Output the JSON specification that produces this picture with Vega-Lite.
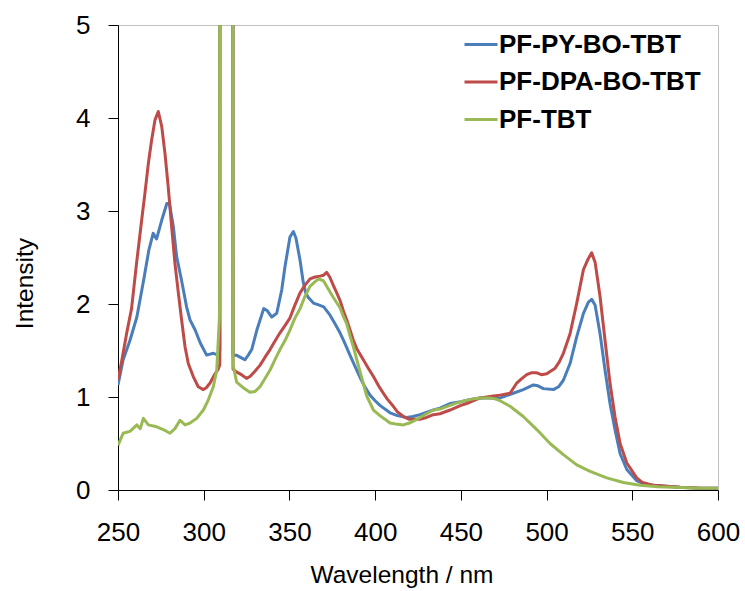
{
  "$schema": "https://vega.github.io/schema/vega-lite/v6.json",
  "width": 600,
  "height": 465,
  "autosize": "none",
  "padding": {"left": 118, "top": 25, "right": 27, "bottom": 101},
  "background": "white",
  "config": {
    "font": "Liberation Sans",
    "view": {"stroke": "#c0c0c0", "strokeWidth": 1},
    "axis": {"grid": false, "domainColor": "black", "tickColor": "black", "labelColor": "black", "titleColor": "black", "labelFont": "Liberation Sans", "titleFont": "Liberation Sans", "titleFontWeight": "normal", "labelFontSize": 26, "titleFontSize": 24.5, "tickSize": 10, "labelFlush": false, "labelOverlap": false}
  },
  "data": {"values": [
    {"wl":250,"v":1.13,"s":"PF-PY-BO-TBT"},{"wl":253,"v":1.40,"s":"PF-PY-BO-TBT"},{"wl":257,"v":1.61,"s":"PF-PY-BO-TBT"},{"wl":261,"v":1.86,"s":"PF-PY-BO-TBT"},{"wl":265,"v":2.26,"s":"PF-PY-BO-TBT"},{"wl":268,"v":2.58,"s":"PF-PY-BO-TBT"},{"wl":270.5,"v":2.76,"s":"PF-PY-BO-TBT"},{"wl":272.5,"v":2.70,"s":"PF-PY-BO-TBT"},{"wl":275.5,"v":2.90,"s":"PF-PY-BO-TBT"},{"wl":278.5,"v":3.08,"s":"PF-PY-BO-TBT"},{"wl":280,"v":3.08,"s":"PF-PY-BO-TBT"},{"wl":282.3,"v":2.83,"s":"PF-PY-BO-TBT"},{"wl":284.2,"v":2.51,"s":"PF-PY-BO-TBT"},{"wl":287,"v":2.26,"s":"PF-PY-BO-TBT"},{"wl":290,"v":1.97,"s":"PF-PY-BO-TBT"},{"wl":292,"v":1.83,"s":"PF-PY-BO-TBT"},{"wl":295,"v":1.72,"s":"PF-PY-BO-TBT"},{"wl":298,"v":1.58,"s":"PF-PY-BO-TBT"},{"wl":301.7,"v":1.45,"s":"PF-PY-BO-TBT"},{"wl":305.6,"v":1.47,"s":"PF-PY-BO-TBT"},{"wl":308.5,"v":1.45,"s":"PF-PY-BO-TBT"},{"wl":309.4,"v":1.5,"s":"PF-PY-BO-TBT"},{"wl":309.8,"v":60,"s":"PF-PY-BO-TBT"},{"wl":316.6,"v":60,"s":"PF-PY-BO-TBT"},{"wl":317.1,"v":1.45,"s":"PF-PY-BO-TBT"},{"wl":319,"v":1.45,"s":"PF-PY-BO-TBT"},{"wl":322,"v":1.42,"s":"PF-PY-BO-TBT"},{"wl":324,"v":1.40,"s":"PF-PY-BO-TBT"},{"wl":326,"v":1.45,"s":"PF-PY-BO-TBT"},{"wl":328,"v":1.51,"s":"PF-PY-BO-TBT"},{"wl":331,"v":1.72,"s":"PF-PY-BO-TBT"},{"wl":335,"v":1.95,"s":"PF-PY-BO-TBT"},{"wl":337,"v":1.93,"s":"PF-PY-BO-TBT"},{"wl":339.7,"v":1.86,"s":"PF-PY-BO-TBT"},{"wl":342.6,"v":1.90,"s":"PF-PY-BO-TBT"},{"wl":345.5,"v":2.15,"s":"PF-PY-BO-TBT"},{"wl":347.4,"v":2.40,"s":"PF-PY-BO-TBT"},{"wl":350.3,"v":2.72,"s":"PF-PY-BO-TBT"},{"wl":352.3,"v":2.78,"s":"PF-PY-BO-TBT"},{"wl":353.8,"v":2.71,"s":"PF-PY-BO-TBT"},{"wl":356.2,"v":2.47,"s":"PF-PY-BO-TBT"},{"wl":358,"v":2.24,"s":"PF-PY-BO-TBT"},{"wl":359.5,"v":2.12,"s":"PF-PY-BO-TBT"},{"wl":361,"v":2.07,"s":"PF-PY-BO-TBT"},{"wl":364,"v":2.01,"s":"PF-PY-BO-TBT"},{"wl":367,"v":1.99,"s":"PF-PY-BO-TBT"},{"wl":370,"v":1.97,"s":"PF-PY-BO-TBT"},{"wl":373.7,"v":1.88,"s":"PF-PY-BO-TBT"},{"wl":376.5,"v":1.79,"s":"PF-PY-BO-TBT"},{"wl":379.5,"v":1.69,"s":"PF-PY-BO-TBT"},{"wl":382.5,"v":1.57,"s":"PF-PY-BO-TBT"},{"wl":385.3,"v":1.45,"s":"PF-PY-BO-TBT"},{"wl":388,"v":1.34,"s":"PF-PY-BO-TBT"},{"wl":391.2,"v":1.21,"s":"PF-PY-BO-TBT"},{"wl":394,"v":1.11,"s":"PF-PY-BO-TBT"},{"wl":397,"v":1.02,"s":"PF-PY-BO-TBT"},{"wl":400,"v":0.96,"s":"PF-PY-BO-TBT"},{"wl":402.8,"v":0.91,"s":"PF-PY-BO-TBT"},{"wl":408.7,"v":0.83,"s":"PF-PY-BO-TBT"},{"wl":413,"v":0.80,"s":"PF-PY-BO-TBT"},{"wl":418.4,"v":0.78,"s":"PF-PY-BO-TBT"},{"wl":422,"v":0.79,"s":"PF-PY-BO-TBT"},{"wl":426.2,"v":0.81,"s":"PF-PY-BO-TBT"},{"wl":434,"v":0.86,"s":"PF-PY-BO-TBT"},{"wl":437.8,"v":0.88,"s":"PF-PY-BO-TBT"},{"wl":443.7,"v":0.93,"s":"PF-PY-BO-TBT"},{"wl":450,"v":0.95,"s":"PF-PY-BO-TBT"},{"wl":455,"v":0.97,"s":"PF-PY-BO-TBT"},{"wl":461,"v":0.99,"s":"PF-PY-BO-TBT"},{"wl":467,"v":0.99,"s":"PF-PY-BO-TBT"},{"wl":473,"v":0.99,"s":"PF-PY-BO-TBT"},{"wl":480.6,"v":1.04,"s":"PF-PY-BO-TBT"},{"wl":486.4,"v":1.08,"s":"PF-PY-BO-TBT"},{"wl":492.3,"v":1.13,"s":"PF-PY-BO-TBT"},{"wl":495,"v":1.12,"s":"PF-PY-BO-TBT"},{"wl":498.1,"v":1.09,"s":"PF-PY-BO-TBT"},{"wl":504,"v":1.08,"s":"PF-PY-BO-TBT"},{"wl":507,"v":1.11,"s":"PF-PY-BO-TBT"},{"wl":509.8,"v":1.18,"s":"PF-PY-BO-TBT"},{"wl":513.7,"v":1.36,"s":"PF-PY-BO-TBT"},{"wl":517.6,"v":1.65,"s":"PF-PY-BO-TBT"},{"wl":521.5,"v":1.90,"s":"PF-PY-BO-TBT"},{"wl":524.4,"v":2.02,"s":"PF-PY-BO-TBT"},{"wl":526.3,"v":2.05,"s":"PF-PY-BO-TBT"},{"wl":528.3,"v":1.99,"s":"PF-PY-BO-TBT"},{"wl":531.2,"v":1.68,"s":"PF-PY-BO-TBT"},{"wl":534.1,"v":1.29,"s":"PF-PY-BO-TBT"},{"wl":537,"v":0.93,"s":"PF-PY-BO-TBT"},{"wl":539.9,"v":0.65,"s":"PF-PY-BO-TBT"},{"wl":542.9,"v":0.39,"s":"PF-PY-BO-TBT"},{"wl":546.8,"v":0.22,"s":"PF-PY-BO-TBT"},{"wl":552.6,"v":0.10,"s":"PF-PY-BO-TBT"},{"wl":556,"v":0.07,"s":"PF-PY-BO-TBT"},{"wl":562.3,"v":0.05,"s":"PF-PY-BO-TBT"},{"wl":570,"v":0.04,"s":"PF-PY-BO-TBT"},{"wl":578,"v":0.03,"s":"PF-PY-BO-TBT"},{"wl":590,"v":0.02,"s":"PF-PY-BO-TBT"},{"wl":600,"v":0.02,"s":"PF-PY-BO-TBT"},

    {"wl":250,"v":1.18,"s":"PF-DPA-BO-TBT"},{"wl":252.1,"v":1.38,"s":"PF-DPA-BO-TBT"},{"wl":255,"v":1.68,"s":"PF-DPA-BO-TBT"},{"wl":257.9,"v":1.95,"s":"PF-DPA-BO-TBT"},{"wl":260.9,"v":2.45,"s":"PF-DPA-BO-TBT"},{"wl":263.8,"v":2.90,"s":"PF-DPA-BO-TBT"},{"wl":265.7,"v":3.19,"s":"PF-DPA-BO-TBT"},{"wl":267.7,"v":3.51,"s":"PF-DPA-BO-TBT"},{"wl":269.6,"v":3.76,"s":"PF-DPA-BO-TBT"},{"wl":271.6,"v":3.98,"s":"PF-DPA-BO-TBT"},{"wl":273.5,"v":4.07,"s":"PF-DPA-BO-TBT"},{"wl":275.5,"v":3.91,"s":"PF-DPA-BO-TBT"},{"wl":277.4,"v":3.62,"s":"PF-DPA-BO-TBT"},{"wl":279.3,"v":3.26,"s":"PF-DPA-BO-TBT"},{"wl":281.3,"v":2.83,"s":"PF-DPA-BO-TBT"},{"wl":283.2,"v":2.44,"s":"PF-DPA-BO-TBT"},{"wl":285.2,"v":2.12,"s":"PF-DPA-BO-TBT"},{"wl":287.1,"v":1.83,"s":"PF-DPA-BO-TBT"},{"wl":289.1,"v":1.54,"s":"PF-DPA-BO-TBT"},{"wl":291,"v":1.36,"s":"PF-DPA-BO-TBT"},{"wl":293.9,"v":1.22,"s":"PF-DPA-BO-TBT"},{"wl":296.8,"v":1.11,"s":"PF-DPA-BO-TBT"},{"wl":299.8,"v":1.08,"s":"PF-DPA-BO-TBT"},{"wl":301.5,"v":1.10,"s":"PF-DPA-BO-TBT"},{"wl":303.7,"v":1.15,"s":"PF-DPA-BO-TBT"},{"wl":306.6,"v":1.25,"s":"PF-DPA-BO-TBT"},{"wl":308.5,"v":1.30,"s":"PF-DPA-BO-TBT"},{"wl":309.4,"v":1.35,"s":"PF-DPA-BO-TBT"},{"wl":309.8,"v":60,"s":"PF-DPA-BO-TBT"},{"wl":316.6,"v":60,"s":"PF-DPA-BO-TBT"},{"wl":317.1,"v":1.30,"s":"PF-DPA-BO-TBT"},{"wl":319,"v":1.27,"s":"PF-DPA-BO-TBT"},{"wl":322,"v":1.24,"s":"PF-DPA-BO-TBT"},{"wl":325,"v":1.20,"s":"PF-DPA-BO-TBT"},{"wl":327,"v":1.22,"s":"PF-DPA-BO-TBT"},{"wl":330,"v":1.28,"s":"PF-DPA-BO-TBT"},{"wl":332.8,"v":1.34,"s":"PF-DPA-BO-TBT"},{"wl":335.5,"v":1.42,"s":"PF-DPA-BO-TBT"},{"wl":338.7,"v":1.51,"s":"PF-DPA-BO-TBT"},{"wl":341.5,"v":1.60,"s":"PF-DPA-BO-TBT"},{"wl":344.5,"v":1.69,"s":"PF-DPA-BO-TBT"},{"wl":347.5,"v":1.77,"s":"PF-DPA-BO-TBT"},{"wl":350.3,"v":1.85,"s":"PF-DPA-BO-TBT"},{"wl":353,"v":1.98,"s":"PF-DPA-BO-TBT"},{"wl":356.2,"v":2.12,"s":"PF-DPA-BO-TBT"},{"wl":359,"v":2.20,"s":"PF-DPA-BO-TBT"},{"wl":362,"v":2.27,"s":"PF-DPA-BO-TBT"},{"wl":365,"v":2.29,"s":"PF-DPA-BO-TBT"},{"wl":367.8,"v":2.30,"s":"PF-DPA-BO-TBT"},{"wl":370,"v":2.31,"s":"PF-DPA-BO-TBT"},{"wl":371.7,"v":2.34,"s":"PF-DPA-BO-TBT"},{"wl":373.5,"v":2.29,"s":"PF-DPA-BO-TBT"},{"wl":375.6,"v":2.20,"s":"PF-DPA-BO-TBT"},{"wl":377.6,"v":2.12,"s":"PF-DPA-BO-TBT"},{"wl":379.5,"v":2.04,"s":"PF-DPA-BO-TBT"},{"wl":381.4,"v":1.93,"s":"PF-DPA-BO-TBT"},{"wl":383.4,"v":1.83,"s":"PF-DPA-BO-TBT"},{"wl":387.3,"v":1.61,"s":"PF-DPA-BO-TBT"},{"wl":389.3,"v":1.52,"s":"PF-DPA-BO-TBT"},{"wl":393.1,"v":1.40,"s":"PF-DPA-BO-TBT"},{"wl":396,"v":1.31,"s":"PF-DPA-BO-TBT"},{"wl":399,"v":1.22,"s":"PF-DPA-BO-TBT"},{"wl":402,"v":1.12,"s":"PF-DPA-BO-TBT"},{"wl":404.8,"v":1.04,"s":"PF-DPA-BO-TBT"},{"wl":407,"v":0.98,"s":"PF-DPA-BO-TBT"},{"wl":410.6,"v":0.90,"s":"PF-DPA-BO-TBT"},{"wl":413,"v":0.84,"s":"PF-DPA-BO-TBT"},{"wl":416.5,"v":0.79,"s":"PF-DPA-BO-TBT"},{"wl":420,"v":0.76,"s":"PF-DPA-BO-TBT"},{"wl":426,"v":0.76,"s":"PF-DPA-BO-TBT"},{"wl":430,"v":0.78,"s":"PF-DPA-BO-TBT"},{"wl":434,"v":0.81,"s":"PF-DPA-BO-TBT"},{"wl":437.8,"v":0.82,"s":"PF-DPA-BO-TBT"},{"wl":443.7,"v":0.86,"s":"PF-DPA-BO-TBT"},{"wl":450,"v":0.91,"s":"PF-DPA-BO-TBT"},{"wl":453.4,"v":0.93,"s":"PF-DPA-BO-TBT"},{"wl":461.2,"v":0.99,"s":"PF-DPA-BO-TBT"},{"wl":469,"v":1.01,"s":"PF-DPA-BO-TBT"},{"wl":472.8,"v":1.02,"s":"PF-DPA-BO-TBT"},{"wl":478.7,"v":1.04,"s":"PF-DPA-BO-TBT"},{"wl":482.6,"v":1.15,"s":"PF-DPA-BO-TBT"},{"wl":485,"v":1.19,"s":"PF-DPA-BO-TBT"},{"wl":488.4,"v":1.24,"s":"PF-DPA-BO-TBT"},{"wl":491,"v":1.26,"s":"PF-DPA-BO-TBT"},{"wl":494.3,"v":1.26,"s":"PF-DPA-BO-TBT"},{"wl":497,"v":1.24,"s":"PF-DPA-BO-TBT"},{"wl":500.1,"v":1.25,"s":"PF-DPA-BO-TBT"},{"wl":505,"v":1.31,"s":"PF-DPA-BO-TBT"},{"wl":507.5,"v":1.38,"s":"PF-DPA-BO-TBT"},{"wl":509.8,"v":1.47,"s":"PF-DPA-BO-TBT"},{"wl":513.7,"v":1.68,"s":"PF-DPA-BO-TBT"},{"wl":517.6,"v":2.01,"s":"PF-DPA-BO-TBT"},{"wl":521.5,"v":2.37,"s":"PF-DPA-BO-TBT"},{"wl":524.4,"v":2.49,"s":"PF-DPA-BO-TBT"},{"wl":526.3,"v":2.55,"s":"PF-DPA-BO-TBT"},{"wl":528.3,"v":2.45,"s":"PF-DPA-BO-TBT"},{"wl":531.2,"v":2.08,"s":"PF-DPA-BO-TBT"},{"wl":534.1,"v":1.61,"s":"PF-DPA-BO-TBT"},{"wl":537,"v":1.15,"s":"PF-DPA-BO-TBT"},{"wl":539.9,"v":0.79,"s":"PF-DPA-BO-TBT"},{"wl":542.9,"v":0.50,"s":"PF-DPA-BO-TBT"},{"wl":546.8,"v":0.29,"s":"PF-DPA-BO-TBT"},{"wl":552.6,"v":0.13,"s":"PF-DPA-BO-TBT"},{"wl":556,"v":0.08,"s":"PF-DPA-BO-TBT"},{"wl":562.3,"v":0.05,"s":"PF-DPA-BO-TBT"},{"wl":570,"v":0.04,"s":"PF-DPA-BO-TBT"},{"wl":578,"v":0.03,"s":"PF-DPA-BO-TBT"},{"wl":590,"v":0.02,"s":"PF-DPA-BO-TBT"},{"wl":600,"v":0.02,"s":"PF-DPA-BO-TBT"},

    {"wl":250,"v":0.48,"s":"PF-TBT"},{"wl":253,"v":0.61,"s":"PF-TBT"},{"wl":257,"v":0.63,"s":"PF-TBT"},{"wl":261,"v":0.70,"s":"PF-TBT"},{"wl":263,"v":0.66,"s":"PF-TBT"},{"wl":264.8,"v":0.77,"s":"PF-TBT"},{"wl":267.7,"v":0.70,"s":"PF-TBT"},{"wl":272.6,"v":0.68,"s":"PF-TBT"},{"wl":276.4,"v":0.65,"s":"PF-TBT"},{"wl":280.3,"v":0.61,"s":"PF-TBT"},{"wl":283.2,"v":0.66,"s":"PF-TBT"},{"wl":286.2,"v":0.75,"s":"PF-TBT"},{"wl":289.1,"v":0.70,"s":"PF-TBT"},{"wl":292,"v":0.72,"s":"PF-TBT"},{"wl":295.9,"v":0.77,"s":"PF-TBT"},{"wl":299.8,"v":0.86,"s":"PF-TBT"},{"wl":302.7,"v":0.97,"s":"PF-TBT"},{"wl":305.6,"v":1.11,"s":"PF-TBT"},{"wl":307.6,"v":1.29,"s":"PF-TBT"},{"wl":309.1,"v":1.83,"s":"PF-TBT"},{"wl":309.3,"v":2.0,"s":"PF-TBT"},{"wl":309.8,"v":60,"s":"PF-TBT"},{"wl":316.6,"v":60,"s":"PF-TBT"},{"wl":317.1,"v":1.35,"s":"PF-TBT"},{"wl":319.2,"v":1.16,"s":"PF-TBT"},{"wl":323,"v":1.10,"s":"PF-TBT"},{"wl":327,"v":1.05,"s":"PF-TBT"},{"wl":330,"v":1.06,"s":"PF-TBT"},{"wl":332.8,"v":1.11,"s":"PF-TBT"},{"wl":335.5,"v":1.19,"s":"PF-TBT"},{"wl":338.7,"v":1.29,"s":"PF-TBT"},{"wl":341.5,"v":1.40,"s":"PF-TBT"},{"wl":344.5,"v":1.51,"s":"PF-TBT"},{"wl":347.5,"v":1.61,"s":"PF-TBT"},{"wl":350.3,"v":1.72,"s":"PF-TBT"},{"wl":353,"v":1.84,"s":"PF-TBT"},{"wl":356.2,"v":1.95,"s":"PF-TBT"},{"wl":359,"v":2.08,"s":"PF-TBT"},{"wl":362,"v":2.19,"s":"PF-TBT"},{"wl":365,"v":2.24,"s":"PF-TBT"},{"wl":367,"v":2.27,"s":"PF-TBT"},{"wl":369.8,"v":2.25,"s":"PF-TBT"},{"wl":373.7,"v":2.13,"s":"PF-TBT"},{"wl":375.6,"v":2.07,"s":"PF-TBT"},{"wl":379.5,"v":1.96,"s":"PF-TBT"},{"wl":381.4,"v":1.87,"s":"PF-TBT"},{"wl":383.4,"v":1.79,"s":"PF-TBT"},{"wl":385.3,"v":1.66,"s":"PF-TBT"},{"wl":387.3,"v":1.54,"s":"PF-TBT"},{"wl":391.2,"v":1.27,"s":"PF-TBT"},{"wl":395.1,"v":1.01,"s":"PF-TBT"},{"wl":399,"v":0.86,"s":"PF-TBT"},{"wl":402.8,"v":0.80,"s":"PF-TBT"},{"wl":408.7,"v":0.72,"s":"PF-TBT"},{"wl":412,"v":0.71,"s":"PF-TBT"},{"wl":416.5,"v":0.70,"s":"PF-TBT"},{"wl":420,"v":0.72,"s":"PF-TBT"},{"wl":424.3,"v":0.76,"s":"PF-TBT"},{"wl":430,"v":0.82,"s":"PF-TBT"},{"wl":434,"v":0.86,"s":"PF-TBT"},{"wl":437.8,"v":0.87,"s":"PF-TBT"},{"wl":443.7,"v":0.91,"s":"PF-TBT"},{"wl":450,"v":0.95,"s":"PF-TBT"},{"wl":457.3,"v":0.98,"s":"PF-TBT"},{"wl":462,"v":0.99,"s":"PF-TBT"},{"wl":467,"v":0.99,"s":"PF-TBT"},{"wl":470,"v":0.98,"s":"PF-TBT"},{"wl":472.8,"v":0.96,"s":"PF-TBT"},{"wl":478.7,"v":0.90,"s":"PF-TBT"},{"wl":486.4,"v":0.79,"s":"PF-TBT"},{"wl":494.3,"v":0.65,"s":"PF-TBT"},{"wl":502,"v":0.50,"s":"PF-TBT"},{"wl":509.8,"v":0.38,"s":"PF-TBT"},{"wl":517.6,"v":0.27,"s":"PF-TBT"},{"wl":525.4,"v":0.20,"s":"PF-TBT"},{"wl":535.1,"v":0.13,"s":"PF-TBT"},{"wl":544.8,"v":0.08,"s":"PF-TBT"},{"wl":554.5,"v":0.05,"s":"PF-TBT"},{"wl":565,"v":0.035,"s":"PF-TBT"},{"wl":574,"v":0.03,"s":"PF-TBT"},{"wl":590,"v":0.02,"s":"PF-TBT"},{"wl":600,"v":0.02,"s":"PF-TBT"}
  ]},
  "mark": {"type": "line", "clip": true, "strokeWidth": 3, "strokeJoin": "round", "strokeCap": "butt", "interpolate": "linear"},
  "encoding": {
    "x": {"field": "wl", "type": "quantitative", "scale": {"domain": [250, 600], "nice": false, "zero": false},
      "axis": {"values": [250, 300, 350, 400, 450, 500, 550, 600], "title": "Wavelength / nm", "labelPadding": 19, "titleBaseline": "alphabetic", "titleY": 92.7, "titleX": 283.5, "titleAlign": "center"}},
    "y": {"field": "v", "type": "quantitative", "scale": {"domain": [0, 5], "nice": false},
      "axis": {"values": [0, 1, 2, 3, 4, 5], "title": "Intensity", "labelPadding": 18, "titleBaseline": "alphabetic", "titleX": -86, "titleY": 258, "titleAngle": 270, "titleAlign": "center"}},
    "color": {"field": "s", "type": "nominal", "sort": ["PF-PY-BO-TBT", "PF-DPA-BO-TBT", "PF-TBT"],
      "scale": {"domain": ["PF-PY-BO-TBT", "PF-DPA-BO-TBT", "PF-TBT"], "range": ["#4a7ebb", "#be4b48", "#98b954"]},
      "legend": {"title": null, "orient": "none", "legendX": 345, "legendY": 1.5, "padding": 0, "symbolType": "stroke", "symbolSize": 1089, "symbolStrokeWidth": 3, "labelFontSize": 26, "labelFontWeight": "bold", "labelFont": "Liberation Sans", "labelColor": "black", "labelOffset": 0, "rowPadding": 6.5, "labelLimit": 400}}
  }
}
